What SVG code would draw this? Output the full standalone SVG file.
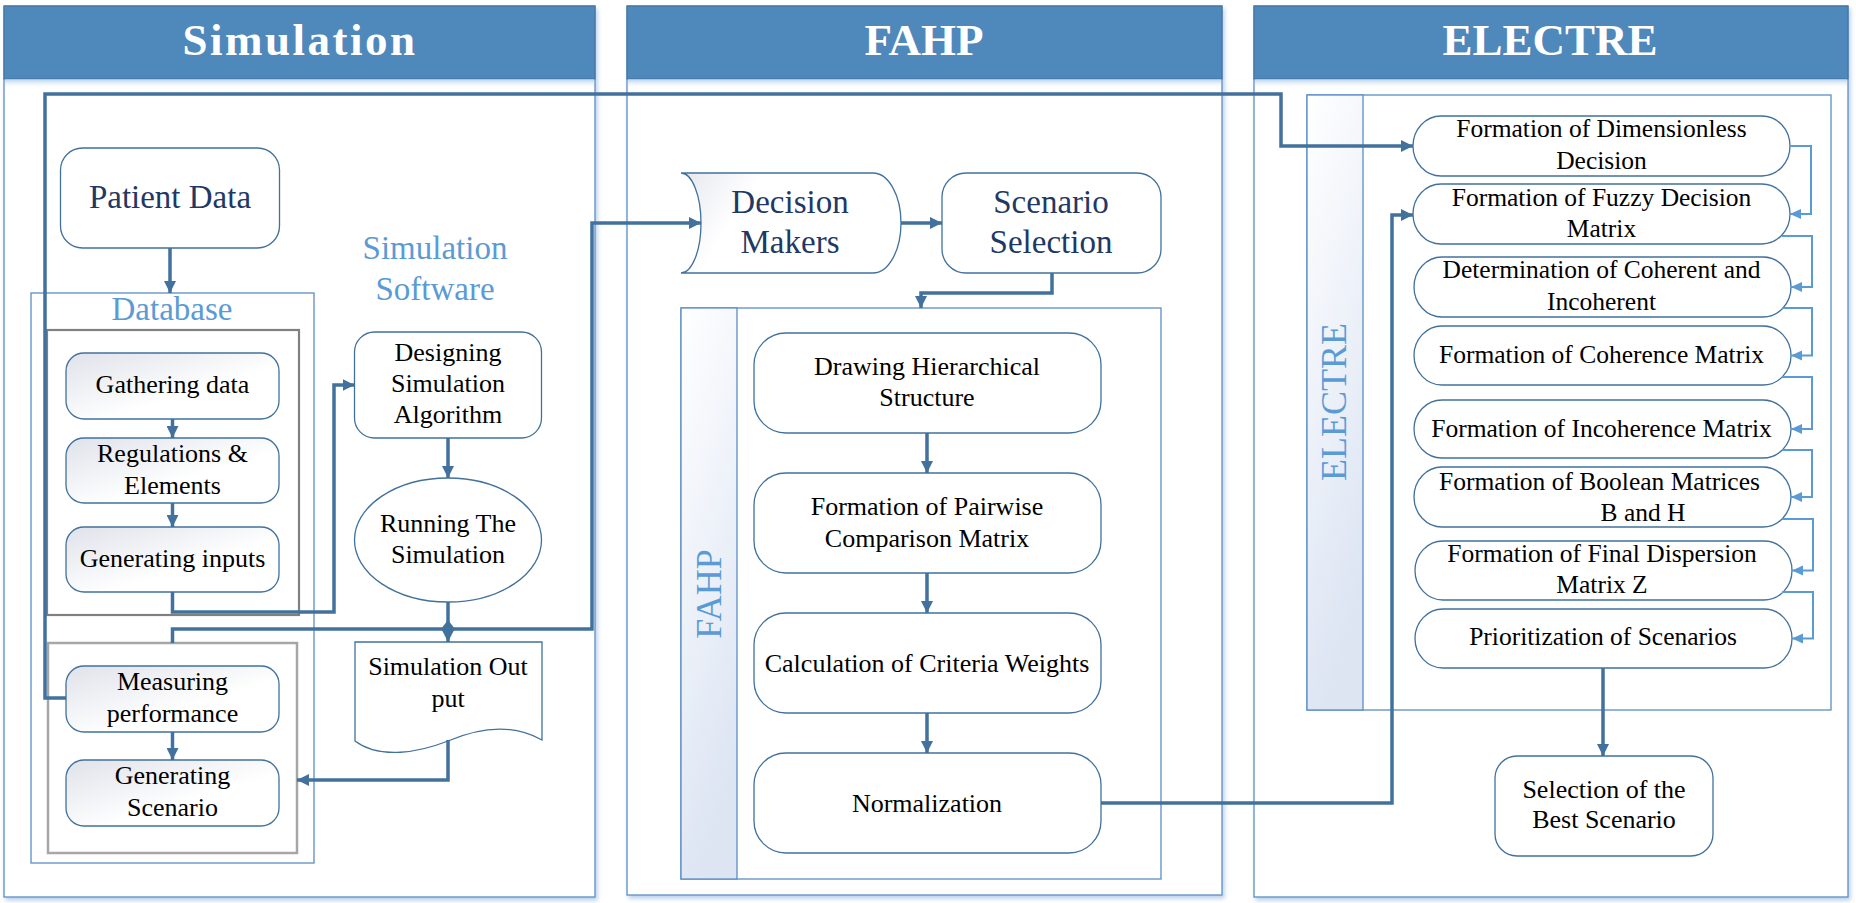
<svg xmlns="http://www.w3.org/2000/svg" width="1856" height="903" viewBox="0 0 1856 903">
<style>
.panel{fill:#ffffff;stroke:#5b8ec4;stroke-width:1.3}
.hdr{fill:#4f88bb;stroke:#41719c;stroke-width:1}
.title{font-family:"Liberation Serif","Times New Roman",serif;font-weight:bold;font-size:45px;fill:#ffffff;text-anchor:middle}
.t{font-family:"Liberation Serif","Times New Roman",serif;font-size:26px;fill:#000000;text-anchor:middle}
.te{font-family:"Liberation Serif","Times New Roman",serif;font-size:25.5px;fill:#000000;text-anchor:middle}
.tb{font-family:"Liberation Serif","Times New Roman",serif;font-size:33px;fill:#1f3864;text-anchor:middle}
.lbl{font-family:"Liberation Serif","Times New Roman",serif;font-size:33px;fill:#5b9bd5;text-anchor:middle}
.vlbl{font-family:"Liberation Serif","Times New Roman",serif;font-size:36px;fill:#5b9bd5;text-anchor:middle}
.box{fill:#ffffff;stroke:#41719c;stroke-width:1.3}
.gbox{fill:url(#gSub);stroke:#41719c;stroke-width:1.3}
.frame{fill:none;stroke:#5b8ec4;stroke-width:1.3}
.gray1{fill:none;stroke:#808080;stroke-width:2.2}
.gray2{fill:none;stroke:#a6a6a6;stroke-width:2.5}
.stripe{fill:url(#gStripe);stroke:#5b8ec4;stroke-width:1.3}
.c{fill:none;stroke:#41719c;stroke-width:3.5;stroke-linejoin:miter}
.ca{fill:none;stroke:#41719c;stroke-width:3.5;marker-end:url(#ah)}
.cl{fill:none;stroke:#5b9bd5;stroke-width:2;marker-end:url(#ahl)}
</style>
<defs>
<marker id="ah" viewBox="0 0 12 12" refX="12" refY="6" markerWidth="12" markerHeight="12" markerUnits="userSpaceOnUse" orient="auto">
<path d="M0,0 L12,6 L0,12 z" fill="#41719c"/>
</marker>
<marker id="ahl" viewBox="0 0 12 12" refX="12" refY="6" markerWidth="12" markerHeight="11" markerUnits="userSpaceOnUse" orient="auto">
<path d="M0,0.5 L12,6 L0,11.5 z" fill="#5b9bd5"/>
</marker>
<linearGradient id="gSub" x1="0" y1="0" x2="1" y2="1">
<stop offset="0" stop-color="#dfe2ea"/>
<stop offset="0.6" stop-color="#ffffff"/>
</linearGradient>
<linearGradient id="gDM" x1="0" y1="0" x2="1" y2="0.3">
<stop offset="0" stop-color="#e6e8ee"/>
<stop offset="0.35" stop-color="#ffffff"/>
</linearGradient>
<linearGradient id="gStripe" x1="0" y1="0" x2="0.3" y2="1">
<stop offset="0" stop-color="#ffffff"/>
<stop offset="1" stop-color="#dde5f3"/>
</linearGradient>
<linearGradient id="gHs" x1="0" y1="0" x2="0" y2="1">
<stop offset="0" stop-color="#bcd3ec"/>
<stop offset="1" stop-color="#ffffff" stop-opacity="0"/>
</linearGradient>
<filter id="sh" x="-5%" y="-5%" width="110%" height="110%">
<feDropShadow dx="2" dy="3" stdDeviation="2" flood-color="#9dbfe3" flood-opacity="0.7"/>
</filter>
</defs>

<g id="panel-simulation">
<rect class="panel" x="4" y="6" width="591" height="891" filter="url(#sh)"/>
<rect class="hdr" x="4" y="6" width="591" height="73"/>
<rect x="5" y="79.5" width="589" height="9" fill="url(#gHs)"/>
<text class="title" x="300" y="55" letter-spacing="2.5">Simulation</text>
</g>
<g id="panel-fahp">
<rect class="panel" x="627" y="6" width="595" height="889" filter="url(#sh)"/>
<rect class="hdr" x="627" y="6" width="595" height="73"/>
<rect x="628" y="79.5" width="593" height="9" fill="url(#gHs)"/>
<text class="title" x="924" y="55">FAHP</text>
</g>
<g id="panel-electre">
<rect class="panel" x="1254" y="6" width="594" height="891" filter="url(#sh)"/>
<rect class="hdr" x="1254" y="6" width="594" height="73"/>
<rect x="1255" y="79.5" width="592" height="9" fill="url(#gHs)"/>
<text class="title" x="1550" y="55">ELECTRE</text>
</g>

<g id="database">
<rect class="frame" x="31" y="293" width="283" height="570"/>
<text class="lbl" x="172" y="320">Database</text>
<rect class="gray1" x="47" y="330" width="252" height="285"/>
<rect class="gray2" x="48" y="643" width="249" height="210"/>
</g>
<g id="simulation-software-label">
<text class="lbl" x="435" y="259">Simulation</text>
<text class="lbl" x="435" y="300">Software</text>
</g>
<g id="patient-data">
<rect class="box" x="60.5" y="148" width="219" height="100" rx="22"/>
<text class="tb" x="170" y="208">Patient Data</text>
</g>
<g id="gathering-data">
<rect class="gbox" x="66" y="353" width="213" height="66" rx="18"/>
<text class="t" x="172.5" y="393">Gathering data</text>
</g>
<g id="regulations">
<rect class="gbox" x="66" y="438" width="213" height="65" rx="18"/>
<text class="t" x="172.5" y="462">Regulations &amp;</text>
<text class="t" x="172.5" y="494">Elements</text>
</g>
<g id="generating-inputs">
<rect class="gbox" x="66" y="527" width="213" height="65" rx="18"/>
<text class="t" x="172.5" y="567">Generating inputs</text>
</g>
<g id="measuring-performance">
<rect class="gbox" x="66" y="666" width="213" height="66" rx="18"/>
<text class="t" x="172.5" y="690">Measuring</text>
<text class="t" x="172.5" y="722">performance</text>
</g>
<g id="generating-scenario">
<rect class="gbox" x="66" y="760" width="213" height="66" rx="18"/>
<text class="t" x="172.5" y="784">Generating</text>
<text class="t" x="172.5" y="816">Scenario</text>
</g>
<g id="designing-algorithm">
<rect class="box" x="354.5" y="332" width="187" height="106" rx="20"/>
<text class="t" x="448" y="361">Designing</text>
<text class="t" x="448" y="392">Simulation</text>
<text class="t" x="448" y="423">Algorithm</text>
</g>
<g id="running-simulation">
<ellipse class="box" cx="448" cy="540" rx="93.5" ry="62"/>
<text class="t" x="448" y="532">Running The</text>
<text class="t" x="448" y="563">Simulation</text>
</g>
<g id="simulation-output">
<path class="box" d="M355,642 H542 V740 C510,722 476,729 448,741 C420,752 380,760 355,741 Z"/>
<text class="t" x="448" y="675">Simulation Out</text>
<text class="t" x="448" y="707">put</text>
</g>

<g id="decision-makers">
<path d="M681,173 H873 A28,50 0 0 1 873,273 H681 A20,50 0 0 0 681,173 Z" fill="url(#gDM)" stroke="#41719c" stroke-width="1.3"/>
<text class="tb" x="790" y="213">Decision</text>
<text class="tb" x="790" y="253">Makers</text>
</g>
<g id="scenario-selection">
<rect class="box" x="942" y="173" width="219" height="100" rx="24"/>
<text class="tb" x="1051" y="213">Scenario</text>
<text class="tb" x="1051" y="253">Selection</text>
</g>
<g id="fahp-lane">
<rect class="frame" x="681" y="308" width="480" height="571"/>
<rect class="stripe" x="681" y="308" width="56" height="571"/>
<text class="vlbl" transform="translate(721,594) rotate(-90)">FAHP</text>
</g>
<g id="drawing-hierarchy">
<rect class="box" x="754" y="333" width="347" height="100" rx="32"/>
<text class="t" x="927" y="375">Drawing Hierarchical</text>
<text class="t" x="927" y="406">Structure</text>
</g>
<g id="pairwise-matrix">
<rect class="box" x="754" y="473" width="347" height="100" rx="32"/>
<text class="t" x="927" y="515">Formation of Pairwise</text>
<text class="t" x="927" y="547">Comparison Matrix</text>
</g>
<g id="criteria-weights">
<rect class="box" x="754" y="613" width="347" height="100" rx="32"/>
<text class="t" x="927" y="672">Calculation of Criteria Weights</text>
</g>
<g id="normalization">
<rect class="box" x="754" y="753" width="347" height="100" rx="32"/>
<text class="t" x="927" y="812">Normalization</text>
</g>

<g id="electre-lane">
<rect class="frame" x="1307" y="95" width="524" height="615"/>
<rect class="stripe" x="1307" y="95" width="56" height="615"/>
<text class="vlbl" transform="translate(1346,402) rotate(-90)">ELECTRE</text>
</g>
<g id="e1">
<rect class="box" x="1413" y="116" width="377" height="60" rx="28" ry="30"/>
<text class="te" x="1601.5" y="137">Formation of Dimensionless</text>
<text class="te" x="1601.5" y="169">Decision</text>
</g>
<g id="e2">
<rect class="box" x="1413" y="184" width="377" height="60" rx="28" ry="30"/>
<text class="te" x="1601.5" y="206">Formation of Fuzzy Decision</text>
<text class="te" x="1601.5" y="237">Matrix</text>
</g>
<g id="e3">
<rect class="box" x="1414" y="257" width="377" height="60" rx="28" ry="30"/>
<text class="te" x="1601.5" y="278">Determination of Coherent and</text>
<text class="te" x="1601.5" y="310">Incoherent</text>
</g>
<g id="e4">
<rect class="box" x="1414" y="326" width="377" height="59" rx="28" ry="29.5"/>
<text class="te" x="1601.5" y="363">Formation of Coherence Matrix</text>
</g>
<g id="e5">
<rect class="box" x="1414" y="400" width="377" height="58" rx="28" ry="29"/>
<text class="te" x="1601.5" y="437">Formation of Incoherence Matrix</text>
</g>
<g id="e6">
<rect class="box" x="1414" y="467" width="377" height="60" rx="28" ry="30"/>
<text class="te" x="1599.5" y="490">Formation of Boolean Matrices</text>
<text class="te" x="1643" y="521">B and H</text>
</g>
<g id="e7">
<rect class="box" x="1415" y="541" width="377" height="59" rx="28" ry="29.5"/>
<text class="te" x="1602" y="562">Formation of Final Dispersion</text>
<text class="te" x="1602" y="593">Matrix Z</text>
</g>
<g id="e8">
<rect class="box" x="1415" y="609" width="377" height="59" rx="28" ry="29.5"/>
<text class="te" x="1603" y="645">Prioritization of Scenarios</text>
</g>
<g id="best-scenario">
<rect class="box" x="1495" y="756" width="218" height="100" rx="22"/>
<text class="t" x="1604" y="798">Selection of the</text>
<text class="t" x="1604" y="828">Best Scenario</text>
</g>

<g id="connectors">
<path class="ca" d="M170,248 V293"/>
<path class="ca" d="M172.5,419 V438"/>
<path class="ca" d="M172.5,503 V527"/>
<path class="ca" d="M172.5,732 V760"/>
<path class="ca" d="M172.5,592 V612 H334 V385 H354.5"/>
<path class="ca" d="M448,438 V478"/>
<path class="ca" d="M448,602 V642"/>
<path class="c" d="M448,629 H172.5 V643"/>
<path class="ca" d="M448,629 H592 V223 H701"/>
<path d="M448,620 L455,629 L448,638 L441,629 Z" fill="#41719c"/>
<path class="ca" d="M448,740 V780 H297"/>
<path class="ca" d="M66,698 H45 V94 H1281 V146 H1413"/>
<path class="ca" d="M901,223 H942"/>
<path class="ca" d="M1052,273 V293 H921 V308"/>
<path class="ca" d="M927,433 V473"/>
<path class="ca" d="M927,573 V613"/>
<path class="ca" d="M927,713 V753"/>
<path class="ca" d="M1101,803 H1392 V215 H1413"/>
<path class="ca" d="M1603,668 V756"/>
<path class="cl" d="M1790,146 H1811 V214 H1790"/>
<path class="cl" d="M1782,236 H1812 V287 H1791"/>
<path class="cl" d="M1782,308 H1812 V355.5 H1791"/>
<path class="cl" d="M1782,377 H1812 V429 H1791"/>
<path class="cl" d="M1782,450 H1812 V497 H1791"/>
<path class="cl" d="M1782,519 H1813 V570.5 H1792"/>
<path class="cl" d="M1782,592 H1813 V638.5 H1792"/>
</g>
</svg>
